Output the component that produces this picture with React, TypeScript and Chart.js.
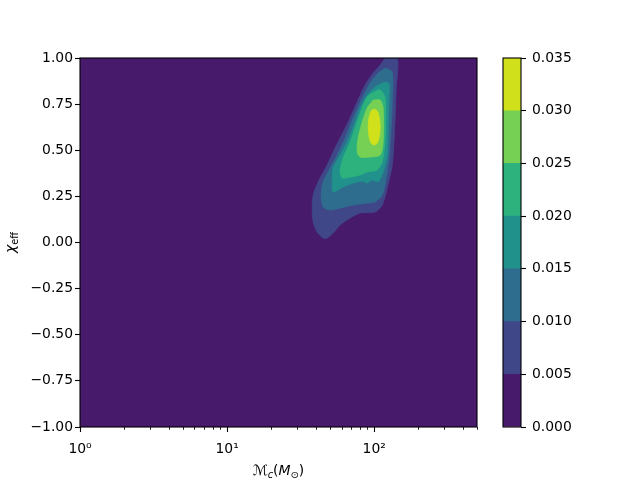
import React, { useEffect, useRef } from "react";
import { Chart, registerables } from "chart.js";
Chart.register(...registerables);

// ---------- data ----------
const levels = [0, 0.005, 0.01, 0.015, 0.02, 0.025, 0.03, 0.035];
const levelColors = ["#481a6c", "#3f4788", "#2e6d8e", "#21918c", "#2db27d", "#75d054", "#d0e11c"];

const xMajorTicks = [1, 10, 100];
const xMinorTicks = [2, 3, 4, 5, 6, 7, 8, 9, 20, 30, 40, 50, 60, 70, 80, 90, 200, 300, 400, 500];
const yTicks = [-1, -0.75, -0.5, -0.25, 0, 0.25, 0.5, 0.75, 1];

// contour boundaries, [chirp mass Mc, chi_eff]
const contour005: [number, number][] = [
  [118.8, 1.0], [143.4, 1.0], [141.2, 0.837], [136.8, 0.566], [132.6, 0.42], [122.6, 0.295],
  [113.4, 0.203], [101.6, 0.165], [80.3, 0.16], [68.7, 0.133], [58.7, 0.095], [52.6, 0.051],
  [47.9, 0.024], [45.0, 0.024], [40.9, 0.057], [38.5, 0.111], [37.9, 0.187], [38.5, 0.257],
  [41.6, 0.328], [47.9, 0.42], [52.6, 0.491], [58.7, 0.566], [66.5, 0.653], [76.6, 0.762],
  [86.9, 0.854], [98.4, 0.919], [109.9, 0.962],
];
const contour010: [number, number][] = [
  [118.8, 0.946], [132.6, 0.924], [132.6, 0.745], [126.5, 0.474], [120.7, 0.35], [113.4, 0.257],
  [101.6, 0.22], [89.6, 0.214], [71.9, 0.203], [58.7, 0.187], [50.2, 0.176], [45.0, 0.192],
  [43.6, 0.257], [45.0, 0.328], [50.2, 0.404], [56.0, 0.474], [63.5, 0.566], [71.9, 0.675],
  [82.9, 0.783], [93.9, 0.864], [106.5, 0.919],
];
const contour015: [number, number][] = [
  [122.6, 0.87], [126.5, 0.854], [124.5, 0.653], [122.6, 0.474], [115.1, 0.382], [106.5, 0.328],
  [96.9, 0.339], [89.6, 0.322], [82.9, 0.333], [71.9, 0.322], [61.5, 0.301], [52.6, 0.274],
  [51.8, 0.328], [52.6, 0.404], [58.7, 0.474], [65.5, 0.545], [71.9, 0.626], [80.3, 0.729],
  [89.6, 0.799], [101.6, 0.843], [113.4, 0.864],
];
const contour020: [number, number][] = [
  [96.9, 0.81], [109.9, 0.827], [118.8, 0.783], [118.8, 0.566], [113.4, 0.436], [104.8, 0.393],
  [89.6, 0.382], [80.3, 0.366], [68.7, 0.355], [60.6, 0.35], [58.7, 0.393], [61.5, 0.458],
  [68.7, 0.545], [76.6, 0.653], [84.2, 0.745], [89.6, 0.789],
];
const contour025: [number, number][] = [
  [98.4, 0.772], [109.9, 0.772], [115.1, 0.729], [115.1, 0.545], [109.9, 0.474], [93.9, 0.463],
  [80.3, 0.463], [76.6, 0.491], [77.8, 0.566], [82.9, 0.653], [89.6, 0.729],
];
const contour030: [number, number][] = [
  [100, 0.724], [105, 0.713], [108.2, 0.68], [109.9, 0.626], [108.2, 0.572], [105, 0.539],
  [100, 0.528], [95.4, 0.539], [92.4, 0.572], [91, 0.626], [92.4, 0.68], [95.4, 0.713],
];
const contours = [contour005, contour010, contour015, contour020, contour025, contour030];

// ---------- helpers ----------
const FONT = "'DejaVu Sans', sans-serif";
const FS = 13.9;
const SUP: Record<string, string> = { "0": "\u2070", "1": "\u00b9", "2": "\u00b2", "3": "\u00b3" };
const fmtY = (v: number) => (v < 0 ? "\u2212" : "") + Math.abs(v).toFixed(2);

type Run = { text: string; font: string; dy: number };
function drawRuns(ctx: CanvasRenderingContext2D, runs: Run[], cx: number, baseline: number) {
  const widths = runs.map((r) => {
    ctx.font = r.font;
    return ctx.measureText(r.text).width;
  });
  const total = widths.reduce((a, b) => a + b, 0);
  let x = cx - total / 2;
  ctx.textAlign = "left";
  ctx.textBaseline = "alphabetic";
  runs.forEach((r, i) => {
    ctx.font = r.font;
    ctx.fillText(r.text, x, baseline + r.dy);
    x += widths[i];
  });
}

const mainPlugin = {
  id: "mainDecor",
  beforeDatasetsDraw(chart: any) {
    const { ctx, chartArea: a } = chart;
    ctx.save();
    ctx.fillStyle = levelColors[0];
    ctx.fillRect(a.left, a.top, a.right - a.left, a.bottom - a.top);
    ctx.restore();
  },
  afterDraw(chart: any) {
    const { ctx, chartArea: a } = chart;
    const xs = chart.scales.x;
    ctx.save();
    ctx.strokeStyle = "#000";
    ctx.lineWidth = 1.1;
    ctx.strokeRect(a.left, a.top, a.right - a.left, a.bottom - a.top);
    ctx.lineWidth = 0.85;
    xMinorTicks.forEach((v) => {
      const px = Math.round(xs.getPixelForValue(v)) + 0.5;
      ctx.beginPath();
      ctx.moveTo(px, a.bottom);
      ctx.lineTo(px, a.bottom + 2.8);
      ctx.stroke();
    });
    ctx.fillStyle = "#000";
    const cx = (a.left + a.right) / 2;
    drawRuns(
      ctx,
      [
        { text: "\u2133", font: `${FS}px ${FONT}`, dy: 0 },
        { text: "c", font: `italic ${FS * 0.7}px ${FONT}`, dy: 2.5 },
        { text: "(", font: `${FS}px ${FONT}`, dy: 0 },
        { text: "M", font: `italic ${FS}px ${FONT}`, dy: 0 },
        { text: "\u2299", font: `${FS * 0.7}px ${FONT}`, dy: 2.5 },
        { text: ")", font: `${FS}px ${FONT}`, dy: 0 },
      ],
      cx,
      a.bottom + 48
    );
    ctx.translate(15, (a.top + a.bottom) / 2);
    ctx.rotate(-Math.PI / 2);
    drawRuns(
      ctx,
      [
        { text: "\u03c7", font: `italic ${FS}px ${FONT}`, dy: 0 },
        { text: "eff", font: `${FS * 0.7}px ${FONT}`, dy: 2.5 },
      ],
      0,
      0
    );
    ctx.restore();
  },
};

const cbPlugin = {
  id: "cbDecor",
  afterDraw(chart: any) {
    const { ctx, chartArea: a } = chart;
    ctx.save();
    ctx.strokeStyle = "#000";
    ctx.lineWidth = 1.1;
    ctx.strokeRect(a.left, a.top, a.right - a.left, a.bottom - a.top);
    ctx.restore();
  },
};

export default function App() {
  const mainRef = useRef<HTMLCanvasElement>(null);
  const cbRef = useRef<HTMLCanvasElement>(null);

  useEffect(() => {
    const tickFont = { family: FONT, size: FS };
    const main = new Chart(mainRef.current!, {
      type: "scatter",
      data: {
        datasets: contours.map((pts, i) => ({
          data: [...pts, pts[0]].map(([x, y]) => ({ x, y })),
          showLine: true,
          fill: "shape",
          backgroundColor: levelColors[i + 1],
          borderColor: levelColors[i + 1],
          borderWidth: 0.8,
          pointRadius: 0,
          tension: 0.25,
          order: contours.length - i,
        })),
      },
      options: {
        animation: false,
        responsive: false,
        events: [],
        layout: { padding: { left: 0, top: 58, right: 163, bottom: 0 } },
        plugins: { legend: { display: false }, tooltip: { enabled: false } },
        scales: {
          x: {
            type: "logarithmic",
            min: 1,
            max: 500,
            afterFit: (s: any) => {
              s.height = 53;
            },
            afterBuildTicks: (s: any) => {
              s.ticks = xMajorTicks.map((v) => ({ value: v }));
            },
            ticks: {
              autoSkip: false,
              maxRotation: 0,
              color: "#000",
              font: tickFont,
              padding: 9,
              callback: (v: any) => "10" + SUP[String(Math.round(Math.log10(Number(v))))],
            },
            grid: { drawOnChartArea: false, tickLength: 5, tickWidth: 1.1, tickColor: "#000" },
            border: { display: false },
          },
          y: {
            type: "linear",
            min: -1,
            max: 1,
            afterFit: (s: any) => {
              s.width = 80;
            },
            afterBuildTicks: (s: any) => {
              s.ticks = yTicks.map((v) => ({ value: v }));
            },
            ticks: { color: "#000", font: tickFont, padding: 2, callback: (v: any) => fmtY(Number(v)) },
            grid: { drawOnChartArea: false, tickLength: 5, tickWidth: 1.1, tickColor: "#000" },
            border: { display: false },
          },
        },
      },
      plugins: [mainPlugin],
    } as any);

    const cb = new Chart(cbRef.current!, {
      type: "bar",
      data: {
        labels: [""],
        datasets: levelColors.map((c, i) => ({
          data: [levels[i + 1] - levels[i]],
          backgroundColor: c,
          borderWidth: 0,
          barPercentage: 1,
          categoryPercentage: 1,
          stack: "s",
        })),
      },
      options: {
        animation: false,
        responsive: false,
        events: [],
        layout: { padding: { left: 503, top: 58, right: 59, bottom: 53 } },
        plugins: { legend: { display: false }, tooltip: { enabled: false } },
        scales: {
          x: { display: false, stacked: true },
          y: {
            stacked: true,
            position: "right",
            min: 0,
            max: 0.035,
            afterFit: (s: any) => {
              s.width = 60;
            },
            afterBuildTicks: (s: any) => {
              s.ticks = levels.map((v) => ({ value: v }));
            },
            ticks: { color: "#000", font: tickFont, padding: 6, callback: (v: any) => Number(v).toFixed(3) },
            grid: { drawOnChartArea: false, tickLength: 5, tickWidth: 1.1, tickColor: "#000" },
            border: { display: false },
          },
        },
      },
      plugins: [cbPlugin],
    } as any);

    return () => {
      main.destroy();
      cb.destroy();
    };
  }, []);

  return (
    <div style={{ position: "fixed", left: 0, top: 0, width: 640, height: 480, background: "#fff" }}>
      <canvas ref={mainRef} width={640} height={480} style={{ position: "absolute", left: 0, top: 0 }} />
      <canvas ref={cbRef} width={640} height={480} style={{ position: "absolute", left: 0, top: 0 }} />
    </div>
  );
}
